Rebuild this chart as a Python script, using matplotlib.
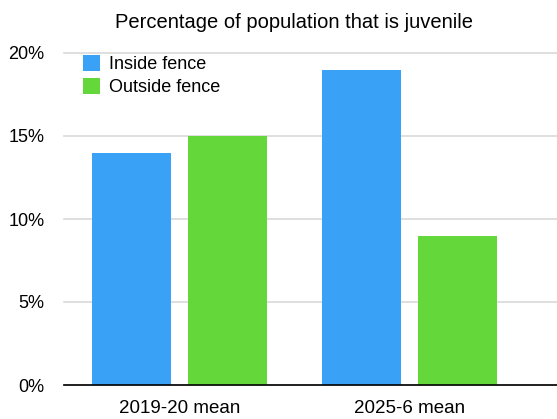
import matplotlib
matplotlib.use("Agg")
import matplotlib.pyplot as plt
import numpy as np

categories = ["2019-20 mean", "2025-6 mean"]
series_names = ["Inside fence", "Outside fence"]
inside = [14, 19]
outside = [15, 9]
yticks = [0, 5, 10, 15, 20]
ytick_labels = ["0%", "5%", "10%", "15%", "20%"]

colors = ["#39A1F6", "#64D83A"]

plt.rcParams['font.family'] = ['Liberation Sans', 'DejaVu Sans']

W, H = 557, 419
fig = plt.figure(figsize=(W / 100, H / 100), dpi=100)
ax = fig.add_axes([64 / W, (H - 385) / H, (W - 64) / W, (385 - 53) / H])

x = np.arange(len(categories))
bw = 0.343
off = 0.209
ax.bar(x - off, inside, bw, color=colors[0], label=series_names[0], zorder=3)
ax.bar(x + off, outside, bw, color=colors[1], label=series_names[1], zorder=3)

ax.set_xlim(-0.502, 1.641)
ax.set_ylim(0, 20)
ax.set_yticks(yticks)
ax.set_yticklabels(ytick_labels)
ax.set_xticks(x)
ax.set_xticklabels(categories)
ax.tick_params(axis='y', length=0, pad=14, labelsize=13, labelcolor='black')
ax.tick_params(axis='x', length=0, pad=11, labelsize=13.5, labelcolor='black')

ax.grid(axis='y', color='#d9d9d9', linewidth=1.2, zorder=0)
for ln in ax.get_ygridlines():
    ln.set_clip_on(False)
for s in ['left', 'right', 'top']:
    ax.spines[s].set_visible(False)
ax.spines['bottom'].set_color('black')
ax.spines['bottom'].set_linewidth(1.2)
ax.spines['bottom'].set_zorder(4)

fig.text(294 / W, 1 - 22 / H, "Percentage of population that is juvenile",
         ha='center', va='center', fontsize=14.5)

leg = ax.legend(loc='upper left', bbox_to_anchor=(83 / W, 1 - 55 / H),
                bbox_transform=fig.transFigure, frameon=False, fontsize=13,
                handlelength=0.95, handleheight=0.95, handletextpad=0.5,
                labelspacing=0.3, borderpad=0, borderaxespad=0)

fig.savefig("out.png", dpi=100)
